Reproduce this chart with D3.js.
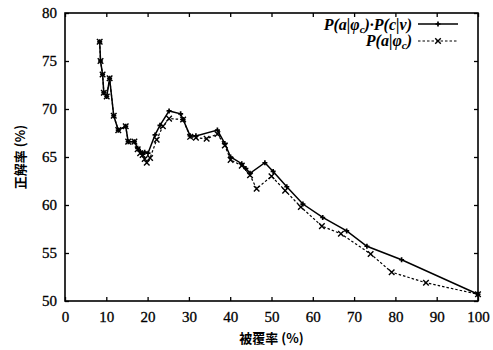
<!DOCTYPE html>
<html><head><meta charset="utf-8">
<script src="https://cdn.jsdelivr.net/npm/d3@7"></script>
<style>
body{margin:0;background:#fff;}
svg{display:block;}
</style></head>
<body><svg id="c" width="493" height="350"></svg>
<script>
// Data
const xTicks = [0,10,20,30,40,50,60,70,80,90,100];
const yTicks = [50,55,60,65,70,75,80];
const solidX = [8.4,8.6,9.1,9.4,10.1,10.8,11.8,12.9,14.7,15.3,16.8,17.6,18.2,18.8,19.3,20.1,21.8,23.0,25.2,28.0,28.6,30.3,31.7,36.9,38.7,40.1,42.8,43.8,44.8,48.4,50.4,53.7,57.6,62.4,68.2,73.1,81.5,100];
const solidY = [77.0,75.0,73.6,71.7,71.3,73.2,69.3,67.8,68.2,66.6,66.6,65.9,65.6,65.3,65.5,65.4,67.3,68.3,69.8,69.5,68.9,67.2,67.2,67.8,66.4,65.0,64.3,63.8,63.3,64.4,63.5,61.9,60.1,58.7,57.3,55.7,54.3,50.7];
const dashX = [8.4,8.6,9.1,9.4,10.1,10.8,11.8,12.9,14.7,15.3,16.8,17.6,18.2,18.8,19.3,19.8,20.6,22.2,23.7,25.2,28.6,30.3,31.7,34.3,36.9,38.7,40.1,42.8,44.8,46.4,50.0,53.3,57.1,62.2,66.8,74.0,79.1,87.4,100];
const dashY = [77.0,75.0,73.6,71.7,71.3,73.2,69.3,67.8,68.2,66.6,66.6,65.8,65.4,65.2,64.8,64.4,64.9,66.8,68.2,69.0,68.9,67.1,67.0,66.9,67.4,66.2,64.7,64.1,63.1,61.7,63.0,61.5,59.8,57.8,57.0,54.9,53.0,51.9,50.7];
const xLabel = "被覆率 (%)";
const yLabel = "正解率 (%)";

const svg = d3.select("#c");
const L=65, R=478, T=13, B=301;
const x = d3.scaleLinear().domain([0,100]).range([L,R]);
const y = d3.scaleLinear().domain([50,80]).range([B,T]);
const numFont = "'Liberation Serif', serif";

// axes with inward ticks
const gx = svg.append("g").attr("transform",`translate(0,${B})`)
  .call(d3.axisBottom(x).tickValues(xTicks).tickSizeInner(-4).tickSizeOuter(0).tickPadding(10));
const gxt = svg.append("g").attr("transform",`translate(0,${T})`)
  .call(d3.axisTop(x).tickValues(xTicks).tickSizeInner(-4).tickSizeOuter(0).tickFormat(""));
const gy = svg.append("g").attr("transform",`translate(${L},0)`)
  .call(d3.axisLeft(y).tickValues(yTicks).tickSizeInner(-4).tickSizeOuter(0).tickPadding(8));
const gyr = svg.append("g").attr("transform",`translate(${R},0)`)
  .call(d3.axisRight(y).tickValues(yTicks).tickSizeInner(-4).tickSizeOuter(0).tickFormat(""));
[gx,gxt,gy,gyr].forEach(g=>{
  g.selectAll("path").remove();
  g.selectAll("line").attr("stroke","#000").attr("stroke-width",1.3);
  g.selectAll("text").attr("font-family",numFont).attr("font-size",15).attr("fill","#000")
    .attr("stroke","#000").attr("stroke-width",0.3);
});
svg.append("rect").attr("x",L).attr("y",T).attr("width",R-L).attr("height",B-T)
  .attr("fill","none").attr("stroke","#000").attr("stroke-width",1.6);

// axis titles
svg.append("text").attr("x",(L+R)/2).attr("y",343).attr("text-anchor","middle")
  .attr("font-family","'Noto Sans CJK JP', sans-serif").attr("font-weight","bold")
  .attr("font-size",13).text(xLabel);
svg.append("text").attr("transform",`translate(25,${(T+B)/2}) rotate(-90)`).attr("text-anchor","middle")
  .attr("font-family","'Noto Sans CJK JP', sans-serif").attr("font-weight","bold")
  .attr("font-size",13).text(yLabel);

const solid = solidX.map((d,i)=>[d,solidY[i]]);
const dash = dashX.map((d,i)=>[d,dashY[i]]);
const line = d3.line().x(d=>x(d[0])).y(d=>y(d[1]));

svg.append("path").datum(dash).attr("d",line).attr("fill","none").attr("stroke","#000")
  .attr("stroke-width",1.2).attr("stroke-dasharray","2.5,2");
svg.append("path").datum(solid).attr("d",line).attr("fill","none").attr("stroke","#000")
  .attr("stroke-width",1.5);

const timesSym = d3.symbol().type(d3.symbolTimes).size(22);
const crossSym = d3.symbol().type(d3.symbolCross).size(14);
svg.append("g").selectAll("path").data(dash).join("path")
  .attr("transform",d=>`translate(${x(d[0])},${y(d[1])})`)
  .attr("d",timesSym).attr("fill","none").attr("stroke","#000").attr("stroke-width",1.4);
svg.append("g").selectAll("path").data(solid).join("path")
  .attr("transform",d=>`translate(${x(d[0])},${y(d[1])})`)
  .attr("d",crossSym).attr("fill","#000");

// legend
const lg = svg.append("g");
const legFont = "'Liberation Serif', serif";
function legText(ypos, parts){
  const t = lg.append("text").attr("x",412).attr("y",ypos).attr("text-anchor","end")
    .attr("font-family",legFont).attr("font-style","italic").attr("font-weight","bold").attr("font-size",16);
  parts.forEach(p=>{
    const s = t.append("tspan").text(p[0]);
    if(p[1]==="sub") s.attr("font-size",11).attr("dy",3);
    if(p[1]==="up") s.attr("dy",-3);
  });
}
legText(30,[["P(a|φ"],["c","sub"],[")·P(c|v)","up"]]);
legText(46,[["P(a|φ"],["c","sub"],[")","up"]]);
lg.append("line").attr("x1",418).attr("x2",458).attr("y1",24).attr("y2",24).attr("stroke","#000").attr("stroke-width",1.5);
lg.append("path").attr("transform","translate(438,24)").attr("d",crossSym).attr("fill","#000");
lg.append("line").attr("x1",418).attr("x2",458).attr("y1",41).attr("y2",41).attr("stroke","#000").attr("stroke-width",1.2).attr("stroke-dasharray","2.5,2");
lg.append("path").attr("transform","translate(438,41)").attr("d",timesSym).attr("fill","none").attr("stroke","#000").attr("stroke-width",1.4);
</script></body></html>
